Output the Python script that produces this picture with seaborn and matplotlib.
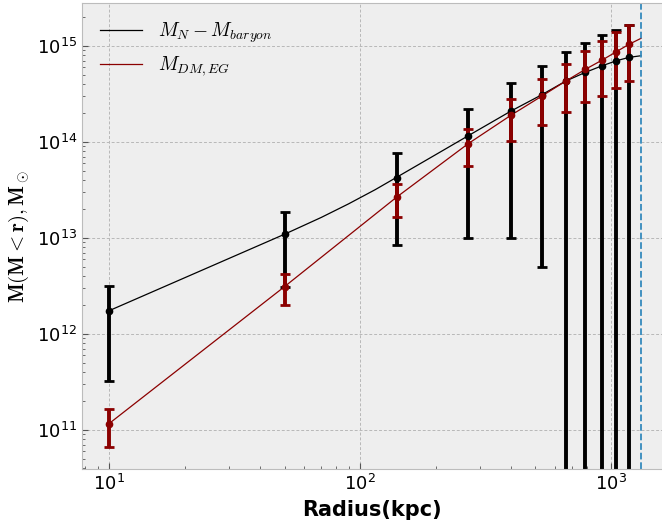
import numpy as np
import pandas as pd
import matplotlib
matplotlib.use('Agg')
import matplotlib.pyplot as plt
import seaborn as sns

# radii of the measured points (kpc)
radius = [10, 50, 140, 270, 400, 530, 660, 790, 920, 1050, 1180]

# M_N - M_baryon points and errors
m_newton = [1.74e12, 1.09e13, 4.25e13, 1.15e14, 2.1e14, 3.1e14, 4.3e14, 5.3e14, 6.2e14, 7.0e14, 7.6e14]
m_newton_err = [1.42e12, 7.8e12, 3.4e13, 1.05e14, 2.0e14, 3.05e14, 4.35e14, 5.4e14, 6.7e14, 7.8e14, 8.9e14]

# M_DM,EG points and errors
m_eg = [1.16e11, 3.1e12, 2.66e13, 9.6e13, 1.9e14, 3.0e14, 4.3e14, 5.7e14, 7.1e14, 8.7e14, 1.04e15]
m_eg_err = [5.0e10, 1.1e12, 1.0e13, 4.0e13, 8.7e13, 1.5e14, 2.25e14, 3.1e14, 4.1e14, 5.1e14, 6.1e14]

# model curves
r_newton_line = [10, 50, 70, 90, 115, 140, 200, 270, 400, 530, 660, 790, 920, 1050, 1180, 1317]
newton_line = [1.74e12, 1.09e13, 1.63e13, 2.26e13, 3.18e13, 4.28e13, 7.35e13, 1.16e14, 2.1e14,
               3.1e14, 4.3e14, 5.3e14, 6.2e14, 7.0e14, 7.6e14, 7.9e14]
r_eg_line = [10, 50, 140, 270, 400, 530, 660, 790, 920, 1050, 1180, 1317]
eg_line = [1.16e11, 3.1e12, 2.66e13, 9.6e13, 1.9e14, 3.0e14, 4.3e14, 5.7e14, 7.1e14, 8.7e14, 1.04e15, 1.2e15]

r_limit = 1317

plt.style.use('bmh')
plt.rcParams['mathtext.fontset'] = 'cm'

fig = plt.figure(figsize=(6.62, 5.22), dpi=100)
ax = fig.add_axes([82 / 662, 53 / 522, 1 - 82 / 662, 466 / 522])

sns.lineplot(x=r_newton_line, y=newton_line, ax=ax, color='black', lw=0.9,
             sort=False, estimator=None, label=r'$M_N - M_{baryon}$')
sns.lineplot(x=r_eg_line, y=eg_line, ax=ax, color='darkred', lw=0.9,
             sort=False, estimator=None, label=r'$M_{DM,EG}$')

ax.errorbar(radius, m_newton, yerr=m_newton_err, fmt='o', color='black', ms=4.5,
            elinewidth=2.8, capsize=3.5, capthick=2)
ax.errorbar(radius, m_eg, yerr=m_eg_err, fmt='o', color='darkred', ms=4.5,
            elinewidth=2.8, capsize=3.5, capthick=2)

ax.axvline(r_limit, color='#348ABD', ls='--', lw=1.3)

ax.set_xscale('log')
ax.set_yscale('log')
ax.set_xlim(7.8, 1596)
ax.set_ylim(3.9e10, 2.8e15)

ax.grid(True, which='major', ls=(0, (3, 2)), color='#b8b8b8', lw=0.7)
ax.grid(False, which='minor')
ax.tick_params(which='both', direction='in', top=False, right=False, labelsize=13)
ax.tick_params(which='major', length=4, color='#555555')
ax.tick_params(which='minor', length=2.5, color='#555555')
ax.spines['right'].set_visible(False)

ax.set_xlabel('Radius(kpc)', fontsize=15, fontweight='bold')
ax.set_ylabel(r'$\mathbf{M(M<r), M_\odot}$', fontsize=15)

ax.legend(loc='upper left', frameon=False, fontsize=14, handlelength=2.2)

fig.savefig('out.png', dpi=100)
